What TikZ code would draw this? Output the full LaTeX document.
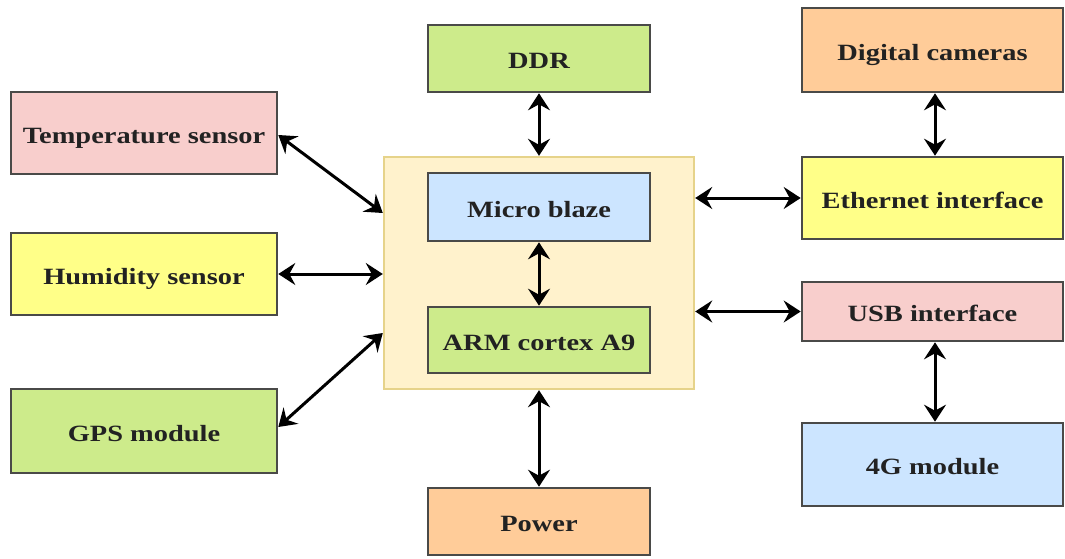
\documentclass[tikz,border=0pt]{standalone}
\usepackage{fontspec}
\setmainfont{Liberation Serif}[FakeStretch=1.22]
\usetikzlibrary{arrows.meta}
\definecolor{cpink}{HTML}{F8CECC}
\definecolor{cyellow}{HTML}{FFFF88}
\definecolor{cgreen}{HTML}{CDEB8B}
\definecolor{cblue}{HTML}{CCE5FF}
\definecolor{corange}{HTML}{FFCC99}
\definecolor{ccontfill}{HTML}{FFF2CC}
\definecolor{ccontdraw}{HTML}{E6D38A}
\definecolor{cborder}{HTML}{4A4A48}
\definecolor{ctext}{HTML}{222222}
\tikzset{
  blk/.style={draw=cborder, line width=2.6pt, inner sep=0pt, text height=20.5pt, text depth=0pt, font=\fontsize{23.3}{27}\selectfont\bfseries, text=ctext},
  conn/.style={line width=3pt, {Stealth[length=17pt,width=22pt,inset=6pt]}-{Stealth[length=17pt,width=22pt,inset=6pt]}}
}
\begin{document}
\begin{tikzpicture}[x=1pt,y=-1pt]
\useasboundingbox (0,0) rectangle (1065,559);
\node[draw=ccontdraw, fill=ccontfill, line width=2.4pt, minimum width=310pt, minimum height=232pt, inner sep=0pt] (cont) at (539,273) {};
\node[blk, fill=cgreen, minimum width=222pt, minimum height=67pt] (ddr) at (539,58.5) {DDR};
\node[blk, fill=corange, minimum width=261pt, minimum height=84pt] (cam) at (932.5,50) {Digital cameras};
\node[blk, fill=cpink, minimum width=266pt, minimum height=82pt] (temp) at (144,133) {Temperature sensor};
\node[blk, fill=cyellow, minimum width=266pt, minimum height=82pt] (hum) at (144,274) {Humidity sensor};
\node[blk, fill=cgreen, minimum width=266pt, minimum height=84pt] (gps) at (144,431) {GPS module};
\node[blk, fill=cblue, minimum width=222pt, minimum height=68pt] (mb) at (539,207) {Micro blaze};
\node[blk, fill=cgreen, minimum width=222pt, minimum height=66pt] (arm) at (539,340) {ARM cortex A9};
\node[blk, fill=cyellow, minimum width=261pt, minimum height=82pt] (eth) at (932.5,198) {Ethernet interface};
\node[blk, fill=cpink, minimum width=261pt, minimum height=59pt] (usb) at (932.5,311.5) {USB interface};
\node[blk, fill=cblue, minimum width=261pt, minimum height=83pt] (g4) at (932.5,464.5) {4G module};
\node[blk, fill=corange, minimum width=222pt, minimum height=67pt] (pow) at (539,521.5) {Power};
\draw[conn] ([yshift=-2pt]temp.east) -- ([yshift=60pt]cont.west);
\draw[conn] (hum.east) -- (hum.east -| cont.west);
\draw[conn] ([yshift=4pt]gps.east) -- ([yshift=-60pt]cont.west);
\draw[conn] (ddr.south) -- (cont.north);
\draw[conn] (mb.south) -- (arm.north);
\draw[conn] (cont.south) -- (pow.north);
\draw[conn] (eth.west -| cont.east) -- (eth.west);
\draw[conn] (usb.west -| cont.east) -- (usb.west);
\draw[conn] ([xshift=2.5pt]cam.south) -- ([xshift=2.5pt]eth.north);
\draw[conn] ([xshift=2.5pt]usb.south) -- ([xshift=2.5pt]g4.north);
\end{tikzpicture}
\end{document}
